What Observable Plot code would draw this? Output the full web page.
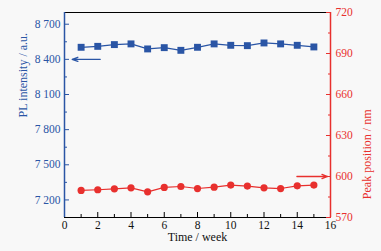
<!DOCTYPE html>
<html><head><meta charset="utf-8">
<script src="https://cdn.jsdelivr.net/npm/d3@7"></script>
<script src="https://cdn.jsdelivr.net/npm/@observablehq/plot@0.6"></script>
<style>
html,body{margin:0;padding:0;background:#f8f8f8;}
#wrap{position:relative;width:381px;height:251px;}
#wrap svg{position:absolute;left:0;top:0;}
</style></head><body><div id="wrap"></div>
<script>
const weeks = [1,2,3,4,5,6,7,8,9,10,11,12,13,14,15];
const plIntensity = [8503,8511,8526,8532,8489,8500,8477,8503,8532,8520,8517,8540,8532,8520,8506];
const peakPosition = [589.8,590.3,591.0,591.7,588.8,592.0,592.7,591.2,592.2,593.7,593.0,591.7,591.2,593.2,593.7];
const xDomain = [0,16];
const xTicks = [0,2,4,6,8,10,12,14,16];
const xMinorTicks = [1,3,5,7,9,11,13,15];
const leftDomain = [7050,8800];
const leftTicks = [7200,7500,7800,8100,8400,8700];
const leftMinorTicks = [7350,7650,7950,8250,8550];
const rightDomain = [570,720];
const rightTicks = [570,600,630,660,690,720];
const rightMinorTicks = [585,615,645,675,705];
const intensityArrow = [{x1:2.15, y1:8400, x2:0.46, y2:8400}];
const peakArrow = [{x1:13.98, y1:600, x2:15.83, y2:600}];
const xLabel = "Time / week";
const leftLabel = "PL intensity / a.u.";
const rightLabel = "Peak position / nm";

const BLUE = "#2a55a5";
const RED = "#e8302e";
const blueData = weeks.map((w,i)=>({week:w, value:plIntensity[i]}));
const redData = weeks.map((w,i)=>({week:w, value:peakPosition[i]}));
const fmt = n => String(n).replace(/(\d)(\d{3})$/, "$1 $2");

const common = {
  width:381, height:251, marginTop:12, marginBottom:34, marginLeft:64, marginRight:51,
  x:{domain:xDomain, label:null},
  style:{background:"transparent", fontFamily:"'Liberation Serif', serif", fontSize:"11.5px", overflow:"visible"}
};

const p1 = Plot.plot({
  ...common,
  y:{domain:leftDomain, label:null},
  marks:[
    Plot.ruleY([leftDomain[1]], {stroke:"black", strokeWidth:1.2}),
    Plot.ruleY([leftDomain[0]], {stroke:"black", strokeWidth:1.2}),
    Plot.axisX({ticks:xTicks, tickSize:5, dy:-5, text:null, label:null, stroke:"black"}),
    Plot.axisX({ticks:xMinorTicks, tickSize:3, dy:-3, text:null, label:null, stroke:"black"}),
    Plot.axisX({ticks:xTicks, tickSize:0, tickPadding:3, label:null, fill:"#111"}),
    Plot.axisY({anchor:"left", ticks:leftTicks, tickSize:5, dx:5, text:null, label:null, stroke:BLUE}),
    Plot.axisY({anchor:"left", ticks:leftMinorTicks, tickSize:3, dx:3, text:null, label:null, stroke:BLUE}),
    Plot.axisY({anchor:"left", ticks:leftTicks, tickSize:0, tickPadding:4, tickFormat:fmt, label:null, fill:BLUE}),
    Plot.ruleX([xDomain[0]], {stroke:BLUE, strokeWidth:1.5}),
    Plot.line(blueData, {x:"week", y:"value", stroke:BLUE, strokeWidth:1.2}),
    Plot.dot(blueData, {x:"week", y:"value", symbol:"square", r:3.9, fill:BLUE, stroke:"none"}),
    Plot.arrow(intensityArrow, {x1:"x1", y1:"y1", x2:"x2", y2:"y2", stroke:BLUE, strokeWidth:1.3, headLength:7, headAngle:40}),
    Plot.text([xLabel], {frameAnchor:"bottom", dy:23, fill:"#111", fontSize:12}),
    Plot.text([leftLabel], {frameAnchor:"left", dx:-41, dy:2.5, rotate:-90, fill:BLUE, fontSize:12})
  ]
});

const p2 = Plot.plot({
  ...common,
  x:{domain:xDomain, label:null, axis:null},
  y:{domain:rightDomain, label:null},
  marks:[
    Plot.axisY({anchor:"right", ticks:rightTicks, tickSize:5, dx:-5, text:null, label:null, stroke:RED}),
    Plot.axisY({anchor:"right", ticks:rightMinorTicks, tickSize:3, dx:-3, text:null, label:null, stroke:RED}),
    Plot.axisY({anchor:"right", ticks:rightTicks, tickSize:0, tickPadding:5, label:null, fill:RED}),
    Plot.ruleX([xDomain[1]], {stroke:RED, strokeWidth:1.5}),
    Plot.line(redData, {x:"week", y:"value", stroke:RED, strokeWidth:1.2}),
    Plot.dot(redData, {x:"week", y:"value", r:3.6, fill:RED, stroke:"none"}),
    Plot.arrow(peakArrow, {x1:"x1", y1:"y1", x2:"x2", y2:"y2", stroke:RED, strokeWidth:1.3, headLength:7, headAngle:40}),
    Plot.text([rightLabel], {frameAnchor:"right", dx:36.7, dy:-5.5, rotate:-90, fill:RED, fontSize:12})
  ]
});

const wrap = document.getElementById("wrap");
wrap.appendChild(p1);
wrap.appendChild(p2);
</script></body></html>
